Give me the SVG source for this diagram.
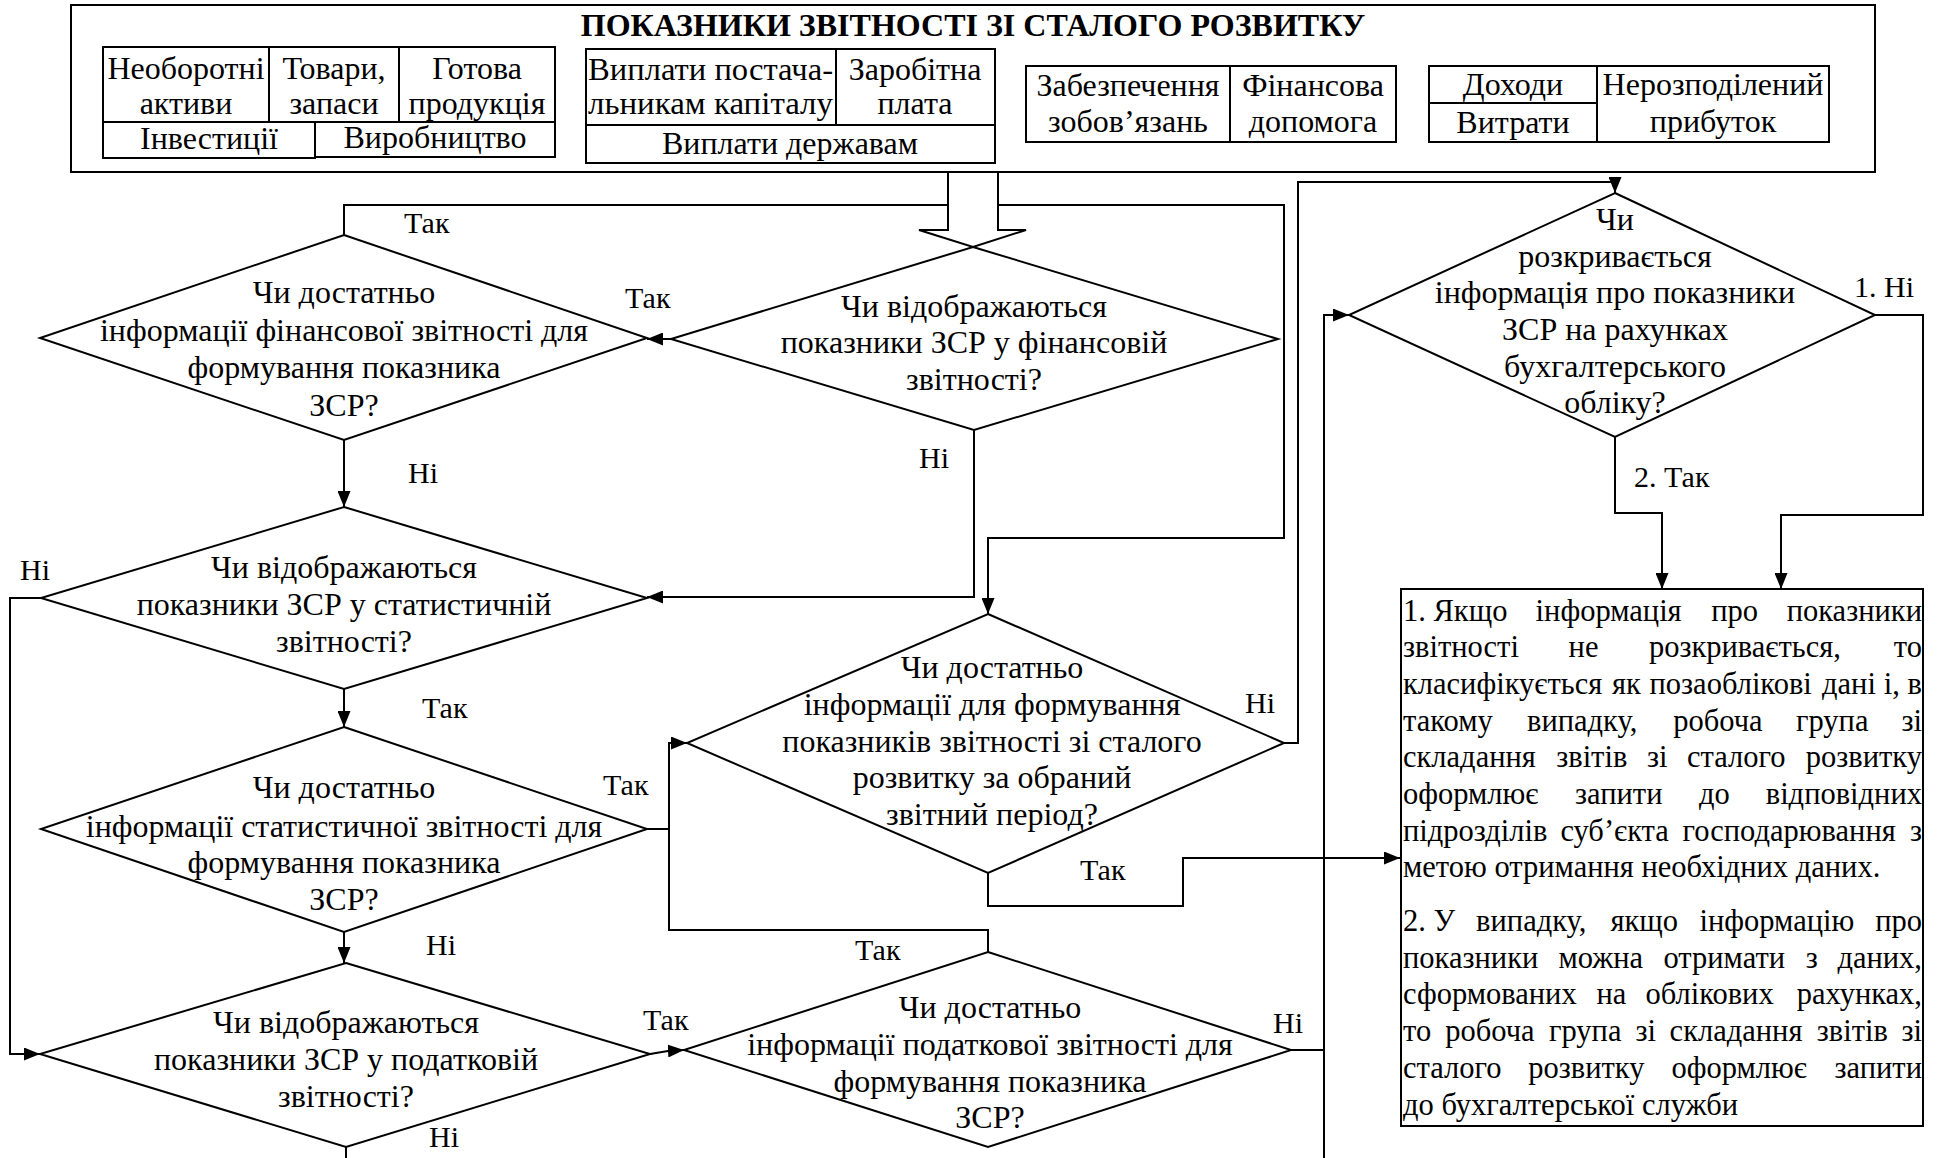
<svg xmlns="http://www.w3.org/2000/svg" width="1937" height="1158" viewBox="0 0 1937 1158">
<defs>
<style>
text{font-family:"Liberation Serif","Times New Roman",serif;fill:#000}
.box{fill:#fff;stroke:#000;stroke-width:2}
.dia{fill:#fff;stroke:#000;stroke-width:2}
.dt{font-size:32px;text-anchor:middle}
.ht{font-size:32px;text-anchor:middle}
.hl{font-size:32px}
.lb{font-size:30px}
.bt{font-size:30.5px}
.c{fill:none;stroke:#000;stroke-width:2}
.ca{fill:none;stroke:#000;stroke-width:2;marker-end:url(#ah)}
</style>
<marker id="ah" viewBox="0 0 16 13" refX="16" refY="6.5" markerWidth="16" markerHeight="13" markerUnits="userSpaceOnUse" orient="auto"><path d="M0,0L16,6.5L0,13z" fill="#000"/></marker>
</defs>
<rect width="1937" height="1158" fill="#fff"/>

<g id="connectors">
<path class="ca" d="M344,235V205H1284V538H988V614"/>
<path class="ca" d="M671,339H647"/>
<path class="ca" d="M344,440V507"/>
<path class="ca" d="M974,430V597H647"/>
<path class="ca" d="M344,689V727"/>
<path class="ca" d="M41,598H10V1054H40"/>
<path class="ca" d="M647,829H669V743H687"/>
<path class="ca" d="M344,932V963"/>
<path class="ca" d="M650,1054L668,1051L684,1050"/>
<path class="c" d="M988,952V930H669V829"/>
<path class="c" d="M346,1147V1158"/>
<path class="c" d="M1291,1050H1324"/>
<path class="ca" d="M1324,1158V315H1349"/>
<path class="ca" d="M1284,743H1298V182H1615V193"/>
<path class="ca" d="M988,873V906H1183V858H1400"/>
<path class="ca" d="M1875,315H1923V515H1781V589"/>
<path class="ca" d="M1615,437V513H1662V589"/>
<path d="M948,172V230H919L973,247L1026,230H998V172" fill="#fff" stroke="#000" stroke-width="2"/>
</g>

<g id="header">
<rect class="box" x="71" y="5" width="1804" height="167" stroke-width="2.5"/>
<text x="973" y="36" font-size="32" font-weight="bold" text-anchor="middle">ПОКАЗНИКИ ЗВІТНОСТІ ЗІ СТАЛОГО РОЗВИТКУ</text>
</g>

<g id="group-assets">
<rect class="box" x="103" y="47" width="166" height="75"/>
<rect class="box" x="269" y="47" width="130" height="75"/>
<rect class="box" x="399" y="47" width="156" height="75"/>
<rect class="box" x="103" y="122" width="212" height="36"/>
<rect class="box" x="315" y="122" width="240" height="35"/>
<text class="ht" x="186" y="79">Необоротні</text>
<text class="ht" x="186" y="114">активи</text>
<text class="ht" x="334" y="79">Товари,</text>
<text class="ht" x="334" y="114">запаси</text>
<text class="ht" x="477" y="79">Готова</text>
<text class="ht" x="477" y="114">продукція</text>
<text class="ht" x="209" y="149">Інвестиції</text>
<text class="ht" x="435" y="148">Виробництво</text>
</g>

<g id="group-payments">
<rect class="box" x="586" y="49" width="250" height="76"/>
<rect class="box" x="836" y="49" width="159" height="76"/>
<rect class="box" x="586" y="125" width="409" height="38"/>
<text class="hl" x="588" y="80" textLength="245" lengthAdjust="spacingAndGlyphs">Виплати постача-</text>
<text class="hl" x="588" y="114" textLength="245" lengthAdjust="spacingAndGlyphs">льникам капіталу</text>
<text class="ht" x="915" y="80">Заробітна</text>
<text class="ht" x="915" y="114">плата</text>
<text class="ht" x="790" y="154">Виплати державам</text>
</g>

<g id="group-provisions">
<rect class="box" x="1026" y="66" width="204" height="76"/>
<rect class="box" x="1230" y="66" width="166" height="76"/>
<text class="ht" x="1128" y="96">Забезпечення</text>
<text class="ht" x="1128" y="132">зобов’язань</text>
<text class="ht" x="1313" y="96">Фінансова</text>
<text class="ht" x="1313" y="132">допомога</text>
</g>

<g id="group-income">
<rect class="box" x="1429" y="66" width="168" height="37"/>
<rect class="box" x="1429" y="103" width="168" height="39"/>
<rect class="box" x="1597" y="66" width="232" height="76"/>
<text class="ht" x="1513" y="95">Доходи</text>
<text class="ht" x="1513" y="133">Витрати</text>
<text class="ht" x="1713" y="95">Нерозподілений</text>
<text class="ht" x="1713" y="132">прибуток</text>
</g>

<g id="dec-fin-enough">
<polygon class="dia" points="344,235 647,338 344,440 40,338"/>
<text class="dt" x="344" y="303">Чи достатньо</text>
<text class="dt" x="344" y="341">інформації фінансової звітності для</text>
<text class="dt" x="344" y="378">формування показника</text>
<text class="dt" x="344" y="416">ЗСР?</text>
</g>

<g id="dec-fin-shown">
<polygon class="dia" points="973,247 1278,339 974,430 671,339"/>
<text class="dt" x="974" y="317">Чи відображаються</text>
<text class="dt" x="974" y="353">показники ЗСР у фінансовій</text>
<text class="dt" x="974" y="390">звітності?</text>
</g>

<g id="dec-stat-shown">
<polygon class="dia" points="344,507 647,598 344,689 41,598"/>
<text class="dt" x="344" y="578">Чи відображаються</text>
<text class="dt" x="344" y="615">показники ЗСР у статистичній</text>
<text class="dt" x="344" y="652">звітності?</text>
</g>

<g id="dec-stat-enough">
<polygon class="dia" points="344,727 647,829 344,932 41,829"/>
<text class="dt" x="344" y="798">Чи достатньо</text>
<text class="dt" x="344" y="837">інформації статистичної звітності для</text>
<text class="dt" x="344" y="873">формування показника</text>
<text class="dt" x="344" y="910">ЗСР?</text>
</g>

<g id="dec-tax-shown">
<polygon class="dia" points="346,963 650,1054 346,1147 40,1054"/>
<text class="dt" x="346" y="1033">Чи відображаються</text>
<text class="dt" x="346" y="1070">показники ЗСР у податковій</text>
<text class="dt" x="346" y="1107">звітності?</text>
</g>

<g id="dec-period-enough">
<polygon class="dia" points="988,614 1284,743 988,873 687,743"/>
<text class="dt" x="992" y="678">Чи достатньо</text>
<text class="dt" x="992" y="715">інформації для формування</text>
<text class="dt" x="992" y="752">показників звітності зі сталого</text>
<text class="dt" x="992" y="788">розвитку за обраний</text>
<text class="dt" x="992" y="825">звітний період?</text>
</g>

<g id="dec-tax-enough">
<polygon class="dia" points="988,952 1291,1050 988,1147 684,1050"/>
<text class="dt" x="990" y="1018">Чи достатньо</text>
<text class="dt" x="990" y="1055">інформації податкової звітності для</text>
<text class="dt" x="990" y="1092">формування показника</text>
<text class="dt" x="990" y="1128">ЗСР?</text>
</g>

<g id="dec-accounts">
<polygon class="dia" points="1615,193 1875,315 1615,437 1349,315"/>
<text class="dt" x="1615" y="230">Чи</text>
<text class="dt" x="1615" y="267">розкривається</text>
<text class="dt" x="1615" y="303">інформація про показники</text>
<text class="dt" x="1615" y="340">ЗСР на рахунках</text>
<text class="dt" x="1615" y="377">бухгалтерського</text>
<text class="dt" x="1615" y="413">обліку?</text>
</g>

<g id="note">
<rect class="box" x="1401" y="589" width="522" height="537"/>
<text class="bt" y="621"><tspan x="1403">1.</tspan><tspan x="1433.5">Якщо</tspan><tspan x="1535.6">інформація</tspan><tspan x="1711.3">про</tspan><tspan x="1922" text-anchor="end">показники</tspan></text>
<text class="bt" y="657"><tspan x="1403">звітності</tspan><tspan x="1568.6">не</tspan><tspan x="1648.9">розкривається,</tspan><tspan x="1922" text-anchor="end">то</tspan></text>
<text class="bt" y="694"><tspan x="1403">класифікується</tspan><tspan x="1612">як</tspan><tspan x="1649.5">позаоблікові</tspan><tspan x="1822">дані</tspan><tspan x="1883.7">і,</tspan><tspan x="1922" text-anchor="end">в</tspan></text>
<text class="bt" y="731"><tspan x="1403">такому</tspan><tspan x="1527">випадку,</tspan><tspan x="1673.3">робоча</tspan><tspan x="1796">група</tspan><tspan x="1922" text-anchor="end">зі</tspan></text>
<text class="bt" y="767"><tspan x="1403">складання</tspan><tspan x="1556.2">звітів</tspan><tspan x="1646.9">зі</tspan><tspan x="1687">сталого</tspan><tspan x="1922" text-anchor="end">розвитку</tspan></text>
<text class="bt" y="804"><tspan x="1403">оформлює</tspan><tspan x="1575">запити</tspan><tspan x="1698.9">до</tspan><tspan x="1922" text-anchor="end">відповідних</tspan></text>
<text class="bt" y="841"><tspan x="1403">підрозділів</tspan><tspan x="1560.4">суб’єкта</tspan><tspan x="1682.5">господарювання</tspan><tspan x="1922" text-anchor="end">з</tspan></text>
<text class="bt" x="1403" y="877">метою отримання необхідних даних.</text>
<text class="bt" y="931"><tspan x="1403">2.</tspan><tspan x="1433.5">У</tspan><tspan x="1476.1">випадку,</tspan><tspan x="1610.5">якщо</tspan><tspan x="1699.5">інформацію</tspan><tspan x="1922" text-anchor="end">про</tspan></text>
<text class="bt" y="968"><tspan x="1403">показники</tspan><tspan x="1558.4">можна</tspan><tspan x="1663.5">отримати</tspan><tspan x="1805.7">з</tspan><tspan x="1922" text-anchor="end">даних,</tspan></text>
<text class="bt" y="1004"><tspan x="1403">сформованих</tspan><tspan x="1596.4">на</tspan><tspan x="1645.5">облікових</tspan><tspan x="1922" text-anchor="end">рахунках,</tspan></text>
<text class="bt" y="1041"><tspan x="1403">то</tspan><tspan x="1445.2">робоча</tspan><tspan x="1549">група</tspan><tspan x="1635.5">зі</tspan><tspan x="1669.6">складання</tspan><tspan x="1816.8">звітів</tspan><tspan x="1922" text-anchor="end">зі</tspan></text>
<text class="bt" y="1078"><tspan x="1403">сталого</tspan><tspan x="1528.2">розвитку</tspan><tspan x="1671.5">оформлює</tspan><tspan x="1922" text-anchor="end">запити</tspan></text>
<text class="bt" x="1403" y="1115">до бухгалтерської служби</text>
</g>

<g id="labels">
<text class="lb" x="404" y="233">Так</text>
<text class="lb" x="625" y="308">Так</text>
<text class="lb" x="408" y="483">Ні</text>
<text class="lb" x="919" y="468">Ні</text>
<text class="lb" x="20" y="580">Ні</text>
<text class="lb" x="422" y="718">Так</text>
<text class="lb" x="603" y="795">Так</text>
<text class="lb" x="426" y="955">Ні</text>
<text class="lb" x="643" y="1030">Так</text>
<text class="lb" x="429" y="1147">Ні</text>
<text class="lb" x="855" y="960">Так</text>
<text class="lb" x="1273" y="1033">Ні</text>
<text class="lb" x="1245" y="713">Ні</text>
<text class="lb" x="1080" y="880">Так</text>
<text class="lb" x="1854" y="297">1. Ні</text>
<text class="lb" x="1634" y="487">2. Так</text>
</g>
</svg>
